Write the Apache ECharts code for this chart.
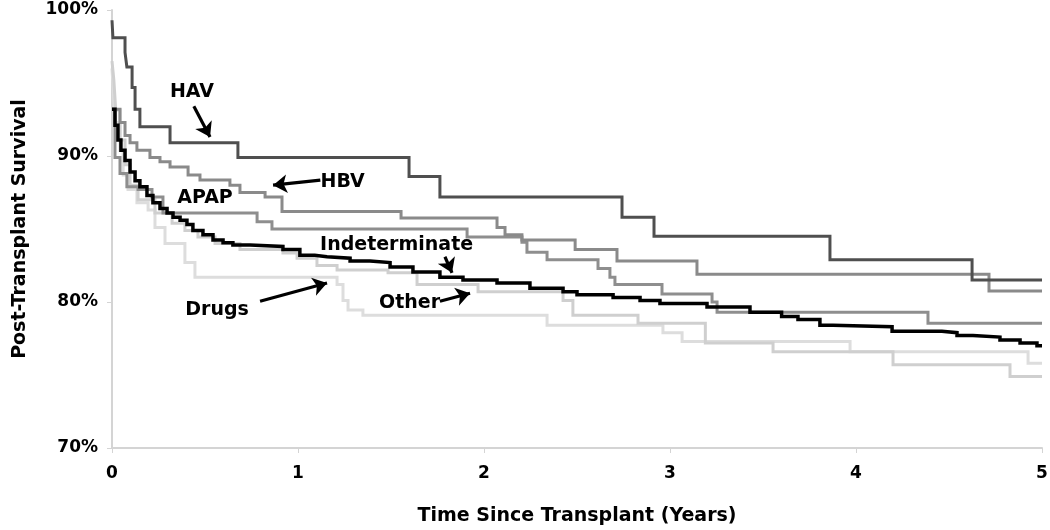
<!DOCTYPE html>
<html>
<head>
<meta charset="utf-8">
<script src="https://cdn.jsdelivr.net/npm/echarts@6/dist/echarts.min.js"></script>
<style>
html,body{margin:0;padding:0;background:#fff;}
#chart{width:1050px;height:530px;}
</style>
</head>
<body>
<div id="chart"></div>
<script>
// Kaplan-Meier style survival curves: [years, survival %]
const hav = [[0,99.3],[0.005,98.1],[0.07,97.1],[0.08,96.1],[0.108,94.7],[0.124,93.2],[0.15,92.0],[0.312,90.9],[0.677,89.9],[1.597,88.6],[1.763,87.2],[2.742,85.8],[2.914,84.5],[3.86,82.9],[4.624,81.5],[5,81.5]];
const hbv = [[0,93.2],[0.043,92.3],[0.07,91.4],[0.097,90.9],[0.134,90.4],[0.204,89.9],[0.258,89.6],[0.312,89.25],[0.409,88.7],[0.473,88.35],[0.634,88.0],[0.688,87.5],[0.823,87.2],[0.914,86.2],[1.554,85.75],[2.07,85.1],[2.113,84.6],[2.204,84.25],[2.49,83.6],[2.715,82.8],[3.145,81.9],[4.715,80.75],[5,80.75]];
const apap = [[0,93.2],[0.016,89.9],[0.043,88.8],[0.08,87.9],[0.14,87.7],[0.215,87.2],[0.274,86.1],[0.78,85.5],[0.86,85.0],[1.909,84.45],[2.204,84.1],[2.231,83.4],[2.339,82.9],[2.613,82.3],[2.677,81.7],[2.704,81.2],[2.957,80.55],[3.226,80.0],[3.253,79.3],[4.387,78.55],[5,78.55]];
const indeterminate = [[0,93.2],[0.016,92.1],[0.032,91.1],[0.048,90.4],[0.07,89.7],[0.097,88.9],[0.124,88.3],[0.15,87.9],[0.188,87.3],[0.22,86.8],[0.258,86.4],[0.296,86.1],[0.328,85.8],[0.366,85.6],[0.403,85.3],[0.435,84.9],[0.489,84.6],[0.543,84.25],[0.597,84.05],[0.65,83.9],[0.742,83.8],[0.919,83.6],[1.01,83.2],[1.09,83.1],[1.156,83.0],[1.28,82.8],[1.387,82.7],[1.495,82.4],[1.618,82.05],[1.763,81.7],[1.887,81.5],[2.07,81.3],[2.247,80.95],[2.425,80.7],[2.5,80.5],[2.694,80.3],[2.839,80.1],[2.946,79.9],[3.199,79.65],[3.43,79.3],[3.6,79.0],[3.688,78.8],[3.806,78.4],[3.876,78.3],[4.194,78.0],[4.462,77.9],[4.543,77.7],[4.629,77.6],[4.774,77.4],[4.882,77.2],[4.973,77.0],[5,77.0]];
const other = [[0,96.5],[0.01,95.2],[0.02,93.15],[0.043,91.1],[0.07,89.4],[0.097,88.0],[0.14,87.0],[0.231,86.1],[0.323,85.4],[0.392,84.9],[0.462,84.45],[0.554,84.0],[0.688,83.6],[0.919,83.35],[0.995,83.0],[1.102,82.5],[1.21,82.2],[1.484,82.0],[1.64,81.2],[1.968,80.7],[2.425,80.1],[2.478,79.1],[2.828,78.55],[3.19,77.2],[3.554,76.6],[4.199,75.7],[4.828,74.9],[5,74.9]];
const drugs = [[0,96.0],[0.01,93.8],[0.02,92.3],[0.043,90.4],[0.06,88.7],[0.086,87.7],[0.134,86.8],[0.194,86.3],[0.231,85.1],[0.285,84.0],[0.392,82.7],[0.446,81.7],[1.21,81.2],[1.242,80.1],[1.269,79.45],[1.349,79.1],[2.339,78.4],[2.962,77.9],[3.065,77.3],[3.968,76.6],[4.925,75.8],[5,75.8]];

const xTicks = [0,1,2,3,4,5];
const yTicks = [70,80,90,100];

// annotation placement (data space): label position and arrow [from, to]
const annotations = [
  {series:'HAV', text:'HAV', at:[0.43,94.4], arrow:[[0.44,93.4],[0.527,91.3]]},
  {series:'HBV', text:'HBV', at:[1.24,88.2], arrow:[[1.12,88.35],[0.866,88.0]]},
  {series:'APAP', text:'APAP', at:[0.5,87.15], arrow:null},
  {series:'Indeterminate', text:'Indeterminate', at:[1.53,83.9], arrow:[[1.79,83.1],[1.828,82.0]]},
  {series:'Other', text:'Other', at:[1.6,79.9], arrow:[[1.763,80.05],[1.925,80.6]]},
  {series:'Drugs', text:'Drugs', at:[0.565,79.45], arrow:[[0.796,80.05],[1.156,81.3]]}
];

const FONT = '"DejaVu Sans", sans-serif';
const styles = {
  'Drugs': {color:'#dddddd', width:3},
  'Other': {color:'#cfcfcf', width:3},
  'APAP': {color:'#8e8e8e', width:3},
  'HBV': {color:'#8a8a8a', width:3},
  'HAV': {color:'#4f4f4f', width:3},
  'Indeterminate': {color:'#000000', width:3.5}
};
const seriesData = {'Drugs':drugs,'Other':other,'APAP':apap,'HBV':hbv,'HAV':hav,'Indeterminate':indeterminate};

const series = Object.keys(seriesData).map(name => {
  const ann = annotations.find(a => a.series === name);
  const s = {
    name: name, type:'line', step:'end', data: seriesData[name],
    showSymbol:false, symbol:'none', silent:true,
    lineStyle:{color:styles[name].color, width:styles[name].width, cap:'butt', join:'miter'},
    z: 2
  };
  if (ann) {
    s.markPoint = {
      silent:true, symbol:'rect', symbolSize:0, animation:false,
      data:[{coord:ann.at, value:ann.text}],
      label:{show:true, position:'inside', formatter:ann.text, color:'#000', fontFamily:FONT, fontWeight:'bold', fontSize:19}
    };
    if (ann.arrow) {
      s.markLine = {
        silent:true, animation:false, symbol:['none','arrow'], symbolSize:14,
        label:{show:false},
        itemStyle:{color:'#000'},
        lineStyle:{color:'#000', width:3.2, type:'solid'},
        emphasis:{disabled:true},
        data:[[{coord:ann.arrow[0]},{coord:ann.arrow[1]}]]
      };
    }
  }
  return s;
});

const chart = echarts.init(document.getElementById('chart'), null, {renderer:'canvas'});
chart.setOption({
  animation:false,
  backgroundColor:'#ffffff',
  grid:{left:112, right:8, top:10, bottom:82, containLabel:false, outerBoundsMode:'none'},
  xAxis:{
    type:'value', min:xTicks[0], max:xTicks[xTicks.length-1], interval:1,
    name:'Time Since Transplant (Years)', nameLocation:'middle', nameGap:59,
    nameTextStyle:{fontFamily:FONT, fontWeight:'bold', fontSize:19, color:'#000'},
    axisLine:{lineStyle:{color:'#d4d4d4', width:2}},
    axisTick:{show:true, length:5, lineStyle:{color:'#d4d4d4'}},
    axisLabel:{margin:17, fontFamily:FONT, fontWeight:'bold', fontSize:17, color:'#000'},
    splitLine:{show:false}
  },
  yAxis:{
    type:'value', min:yTicks[0], max:yTicks[yTicks.length-1], interval:10,
    name:'Post-Transplant Survival', nameLocation:'middle', nameGap:82, nameRotate:90,
    nameTextStyle:{fontFamily:FONT, fontWeight:'bold', fontSize:19, color:'#000'},
    axisLine:{show:true, lineStyle:{color:'#d4d4d4', width:2}},
    axisTick:{show:true, length:5, lineStyle:{color:'#d4d4d4'}},
    axisLabel:{margin:14, formatter:'{value}%', fontFamily:FONT, fontWeight:'bold', fontSize:17, color:'#000'},
    splitLine:{show:false}
  },
  series: series
});
</script>
</body>
</html>
